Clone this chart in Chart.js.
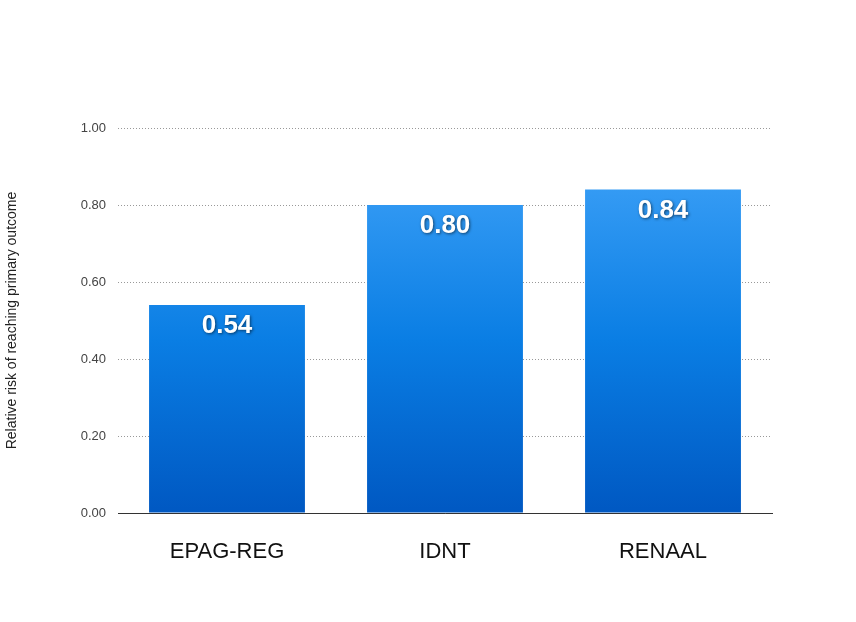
<!DOCTYPE html>
<html><head><meta charset="utf-8">
<script src="https://cdn.jsdelivr.net/npm/chart.js@4"></script>
<style>html,body{margin:0;background:#fff}#w{width:856px;height:622px}</style>
</head><body><div id="w"><canvas id="c"></canvas></div>
<script>
const categories = ["EPAG-REG", "IDNT", "RENAAL"];
const values = [0.54, 0.80, 0.84];
const yTicks = [0, 0.2, 0.4, 0.6, 0.8, 1.0];

const labelPlugin = {
  id: 'lbl',
  afterDatasetsDraw(chart) {
    const ctx = chart.ctx;
    const meta = chart.getDatasetMeta(0);
    ctx.save();
    ctx.font = 'bold 26px "Liberation Sans", Arial, sans-serif';
    ctx.textAlign = 'center';
    ctx.textBaseline = 'top';
    ctx.shadowColor = 'rgba(0,0,0,0.55)';
    ctx.shadowBlur = 3; ctx.shadowOffsetX = 1; ctx.shadowOffsetY = 1;
    ctx.fillStyle = '#fff';
    meta.data.forEach((b, i) => ctx.fillText(values[i].toFixed(2), b.x, b.y + 8));
    ctx.restore();
  }
};

new Chart(document.getElementById('c'), {
  type: 'bar',
  data: { labels: categories, datasets: [{ data: values,
    backgroundColor: (c) => {
      const a = c.chart.chartArea; if (!a) return '#1080e0';
      const g = c.chart.ctx.createLinearGradient(0, a.top, 0, a.bottom);
      g.addColorStop(0, '#45a6fa'); g.addColorStop(0.55, '#0a7ee4'); g.addColorStop(1, '#0058c2');
      return g;
    },
    categoryPercentage: 1, barPercentage: 0.715 }] },
  options: {
    responsive: true, maintainAspectRatio: false, animation: false,
    layout: { padding: { left: 0, right: 84, top: 128, bottom: 0 } },
    plugins: { legend: { display: false }, tooltip: { enabled: false } },
    scales: {
      y: { min: 0, max: 1, afterFit(s) { s.width = 118; },
        afterBuildTicks(s) { s.ticks = yTicks.map(v => ({ value: v })); },
        ticks: { callback: v => v.toFixed(2), color: '#444', font: { size: 13, family: 'Helvetica, "Liberation Sans", Arial' }, padding: 12 },
        grid: { color: '#999', borderDash: [1, 2], drawTicks: false },
        border: { display: false, dash: [1, 2] },
        title: { display: true, text: 'Relative risk of reaching primary outcome', color: '#222', font: { size: 14, family: 'Helvetica, "Liberation Sans", Arial' } } },
      x: { afterFit(s) { s.height = 109; },
        ticks: { color: '#111', font: { size: 22, family: 'Helvetica, "Liberation Sans", Arial' }, padding: 18 },
        grid: { display: false }, border: { color: '#333', width: 1 } }
    }
  },
  plugins: [labelPlugin]
});
</script></body></html>
